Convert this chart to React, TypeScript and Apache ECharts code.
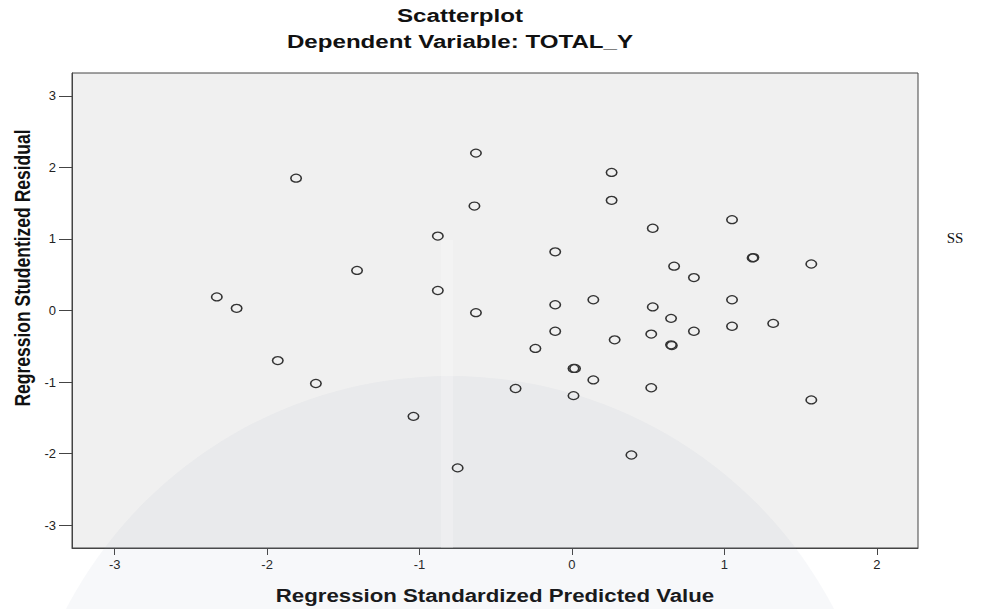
import React, { useEffect, useRef } from "react";
import * as echarts from "echarts";

// Regression Standardized Predicted Value (x) and Studentized Residual (y)
const predicted = [
  -2.33, -2.2, -1.93, -1.68, -1.81, -1.41, -1.04, -0.88, -0.88, -0.75,
  -0.63, -0.64, -0.63, -0.37, -0.24, -0.11, -0.11, -0.11, 0.01, 0.02,
  0.01, 0.14, 0.14, 0.26, 0.26, 0.28, 0.39, 0.53, 0.53, 0.52,
  0.52, 0.65, 0.65, 0.655, 0.67, 0.8, 0.8, 1.05, 1.05, 1.05,
  1.19, 1.185, 1.32, 1.57, 1.57,
];
const residual = [
  0.19, 0.03, -0.7, -1.02, 1.85, 0.56, -1.48, 1.04, 0.28, -2.2,
  2.2, 1.46, -0.03, -1.09, -0.53, 0.82, 0.08, -0.29, -0.81, -0.81,
  -1.19, 0.15, -0.97, 1.93, 1.54, -0.41, -2.02, 1.15, 0.05, -0.33,
  -1.08, -0.11, -0.48, -0.49, 0.62, 0.46, -0.29, 1.27, 0.15, -0.22,
  0.74, 0.735, -0.18, 0.65, -1.25,
];
const xTicks = [-3, -2, -1, 0, 1, 2];
const yTicks = [-3, -2, -1, 0, 1, 2, 3];

const titleText = "Scatterplot";
const subtitleText = "Dependent Variable: TOTAL_Y";
const xName = "Regression Standardized Predicted Value";
const yName = "Regression Studentized Residual";

export default function App() {
  const ref = useRef<HTMLDivElement>(null);
  useEffect(() => {
    if (!ref.current) return;
    const chart = echarts.init(ref.current, undefined, { renderer: "svg" });
    const data = predicted.map((x, i) => [x, residual[i]]);
    const stretch = 1.27;
    const boldFont = "'Liberation Sans', Arial, sans-serif";
    const labelFont = "'Liberation Sans Narrow', 'Liberation Sans', Arial, sans-serif";
    chart.setOption({
      animation: false,
      backgroundColor: "#ffffff",
      grid: {
        left: 72,
        top: 73,
        right: 67,
        bottom: 61,
        show: true,
        backgroundColor: "#f0f0f0",
        borderColor: "#444",
        borderWidth: 1,
      },
      xAxis: {
        type: "value",
        min: -3.28,
        max: 2.27,
        axisLine: { show: true, onZero: false, lineStyle: { color: "#444", width: 1 } },
        splitLine: { show: false },
        axisTick: {
          show: true,
          length: 7,
          customValues: xTicks,
          lineStyle: { color: "#444", width: 1 },
        },
        axisLabel: {
          customValues: xTicks,
          margin: 10,
          fontSize: 13,
          color: "#222",
          fontFamily: labelFont,
        },
      },
      yAxis: {
        type: "value",
        min: -3.32,
        max: 3.32,
        axisLine: { show: true, onZero: false, lineStyle: { color: "#444", width: 1 } },
        splitLine: { show: false },
        axisTick: {
          show: true,
          length: 13,
          customValues: yTicks,
          lineStyle: { color: "#444", width: 1 },
        },
        axisLabel: {
          customValues: yTicks,
          margin: 16,
          fontSize: 13,
          color: "#222",
          fontFamily: labelFont,
        },
      },
      graphic: [
        {
          type: "circle",
          z: 1,
          silent: true,
          shape: { cx: 450, cy: 809, r: 433 },
          style: { fill: "rgba(140,152,190,0.07)" },
        },
        {
          type: "rect",
          z: 1,
          silent: true,
          shape: { x: 441, y: 240, width: 12, height: 308 },
          style: { fill: "rgba(255,255,255,0.22)" },
        },
        {
          type: "text",
          x: 460,
          y: 15,
          scaleX: stretch,
          style: {
            text: titleText,
            font: `bold 19px ${boldFont}`,
            fill: "#111",
            textAlign: "center",
            textVerticalAlign: "middle",
          },
        },
        {
          type: "text",
          x: 460,
          y: 41,
          scaleX: stretch,
          style: {
            text: subtitleText,
            font: `bold 19px ${boldFont}`,
            fill: "#111",
            textAlign: "center",
            textVerticalAlign: "middle",
          },
        },
        {
          type: "text",
          x: 495,
          y: 596,
          scaleX: stretch,
          style: {
            text: xName,
            font: `bold 17.5px ${boldFont}`,
            fill: "#111",
            textAlign: "center",
            textVerticalAlign: "middle",
          },
        },
        {
          type: "text",
          x: 22,
          y: 268,
          rotation: Math.PI / 2,
          scaleY: stretch,
          style: {
            text: yName,
            font: `bold 17.5px ${boldFont}`,
            fill: "#111",
            textAlign: "center",
            textVerticalAlign: "middle",
          },
        },
        {
          type: "text",
          x: 955,
          y: 238,
          style: {
            text: "SS",
            font: "15px 'Liberation Serif', 'Times New Roman', serif",
            fill: "#111",
            textAlign: "center",
            textVerticalAlign: "middle",
          },
        },
      ],
      series: [
        {
          type: "scatter",
          z: 3,
          data,
          symbol: "circle",
          symbolSize: [10.5, 8],
          itemStyle: {
            color: "rgba(0,0,0,0)",
            borderColor: "#333",
            borderWidth: 1.4,
            opacity: 1,
          },
        },
      ],
    });
    return () => chart.dispose();
  }, []);
  return (
    <div
      ref={ref}
      style={{ position: "fixed", left: 0, top: 0, width: 985, height: 609 }}
    />
  );
}
